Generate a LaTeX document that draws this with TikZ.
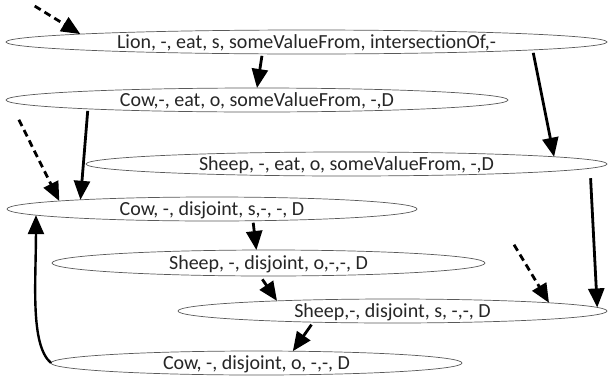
\documentclass[tikz,border=0pt]{standalone}
\usepackage{fontspec}
\setmainfont{Carlito}[Ligatures=NoCommon]
\usetikzlibrary{arrows.meta,shapes.geometric}
\begin{document}
\begin{tikzpicture}[x=1pt,y=-1pt,
  box/.style={ellipse, draw=black!65, line width=0.7pt, fill=white,
    inner sep=0pt, outer sep=0pt, text height=13pt, text depth=0pt,
    text=black!85, font=\fontsize{20}{22}\selectfont},
  link/.style={-{Triangle[length=19pt,width=16pt]}, line width=2.8pt, shorten <=2pt},
  hint/.style={link, dash pattern=on 7pt off 4.5pt}
]
\useasboundingbox (0,0) rectangle (608,378);

% triples, top to bottom
\node[box, minimum width=601pt, minimum height=24pt] (e1) at (306.5,42)
  {Lion, -, eat, s, someValueFrom, intersectionOf,-};
\node[box, minimum width=502pt, minimum height=24pt] (e2) at (257,100)
  {Cow,-, eat, o, someValueFrom, -,D};
\node[box, minimum width=521pt, minimum height=24pt] (e3) at (346.5,164)
  {Sheep, -, eat, o, someValueFrom, -,D};
\node[box, minimum width=410pt, minimum height=24pt] (e4) at (212,209)
  {Cow, -, disjoint, s,-, -, D};
\node[box, minimum width=433pt, minimum height=26pt] (e5) at (268.5,263)
  {Sheep, -, disjoint, o,-,-, D};
\node[box, minimum width=429pt, minimum height=24pt] (e6) at (392.5,311)
  {Sheep,-, disjoint, s, -,-, D};
\node[box, minimum width=411pt, minimum height=24pt] (e7) at (256.5,363)
  {Cow, -, disjoint, o, -,-, D};

% entry points of the dashed arrows
\coordinate (d1) at (33,5);
\coordinate (d2) at (18,118);
\coordinate (d3) at (513,243);

% solid links
\draw[link] (e1.-165.39) -- (e2.north);
\draw[link, shorten <=3pt] (e1.-2.22) -- (e3.2.46);
\draw[link, shorten <=10pt] (e3.-1.924) -- (e6.1.62);
\draw[link] (e2.-177.25) -- (e4.176.61);
\draw[link] (e4.-16.8) -- (e5.133.9);
\draw[link, shorten <=4pt] (e5.-123.2) -- (e6.175.12);
\draw[link, shorten <=3pt] (e6.-172.67) -- (e7.18.92);
\draw[link, line width=2.4pt, shorten <=0pt] (e7.west) .. controls +(-21,-18) and +(0,67) .. (e4.-178.64);

% dashed links
\draw[hint] (d1) -- (e1.178.41);
\draw[hint] (d2) -- (e4.177.40);
\draw[hint] (d3) -- (e6.3.51);
\end{tikzpicture}
\end{document}
